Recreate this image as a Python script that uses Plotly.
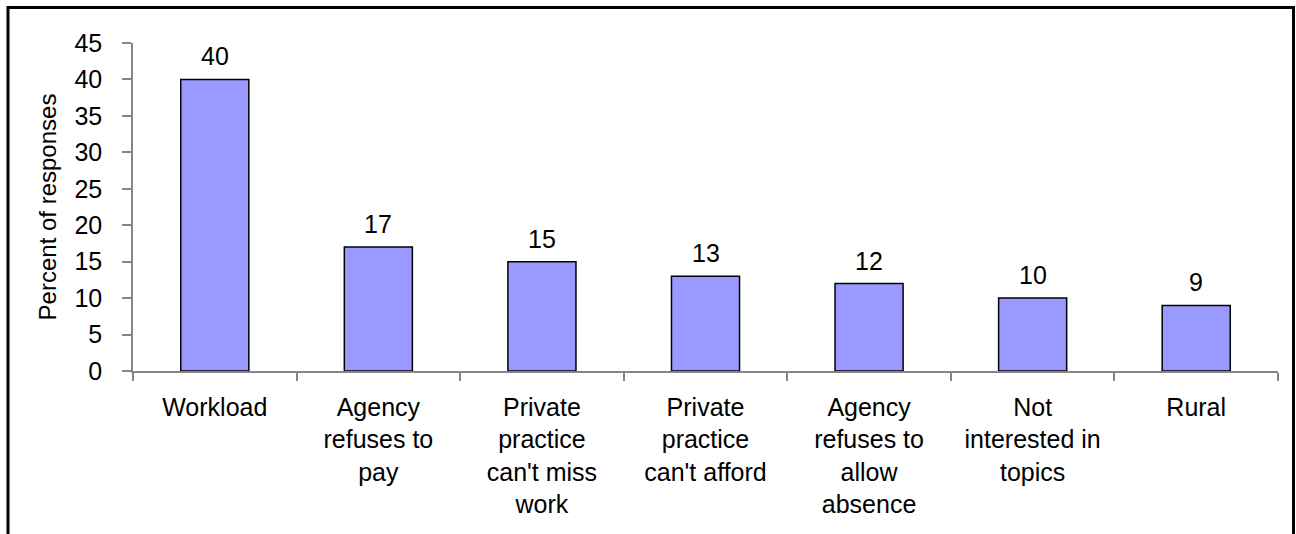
import plotly.graph_objects as go

categories = [
    "Workload",
    "Agency<br>refuses to<br>pay",
    "Private<br>practice<br>can't miss<br>work",
    "Private<br>practice<br>can't afford",
    "Agency<br>refuses to<br>allow<br>absence",
    "Not<br>interested in<br>topics",
    "Rural",
]
values = [40, 17, 15, 13, 12, 10, 9]
y_ticks = [0, 5, 10, 15, 20, 25, 30, 35, 40, 45]

W, H = 1296, 534
L, R, T, B = 133, 18, 43, 163
pw, ph = W - L - R, H - T - B

FONT = "Liberation Sans, Arial, sans-serif"
FS = 25

fig = go.Figure()
fig.add_trace(go.Bar(
    x=categories, y=values,
    marker=dict(color="#9999FF", line=dict(color="#000000", width=1.5)),
    hoverinfo="skip",
))

for c, v in zip(categories, values):
    fig.add_annotation(x=c, y=v, text=str(v), showarrow=False,
                       yanchor="bottom", yshift=7,
                       font=dict(family=FONT, size=FS, color="#000"))

def px_x(p):
    return (p - L) / pw

def px_y(p):
    return (H - B - p) / ph

fig.add_shape(type="rect", xref="paper", yref="paper",
              x0=px_x(8), x1=px_x(1293.5), y0=px_y(560), y1=px_y(7.5),
              line=dict(color="#000", width=3), fillcolor="rgba(0,0,0,0)",
              layer="above")

fig.update_layout(
    width=W, height=H,
    margin=dict(l=L, r=R, t=T, b=B, pad=0),
    paper_bgcolor="white", plot_bgcolor="white",
    bargap=0.584,
    showlegend=False,
    font=dict(family=FONT, size=FS, color="#000"),
    xaxis=dict(
        type="category",
        showline=True, linecolor="#868686", linewidth=1.5,
        ticks="outside", ticklen=8, tickcolor="#868686", tickwidth=1.5,
        tickson="boundaries",
        showgrid=False, zeroline=False,
        ticklabelstandoff=13,
        tickfont=dict(family=FONT, size=FS, color="#000"),
    ),
    yaxis=dict(
        range=[0, 45], tickvals=y_ticks,
        showline=True, linecolor="#868686", linewidth=1.5,
        ticks="outside", ticklen=9, tickcolor="#868686", tickwidth=1.5,
        showgrid=False, zeroline=False,
        ticklabelstandoff=15,
        tickfont=dict(family=FONT, size=FS, color="#000"),
        title=dict(text="Percent of responses", standoff=11,
                   font=dict(family=FONT, size=24, color="#000")),
    ),
)

fig.write_html("out.html")
